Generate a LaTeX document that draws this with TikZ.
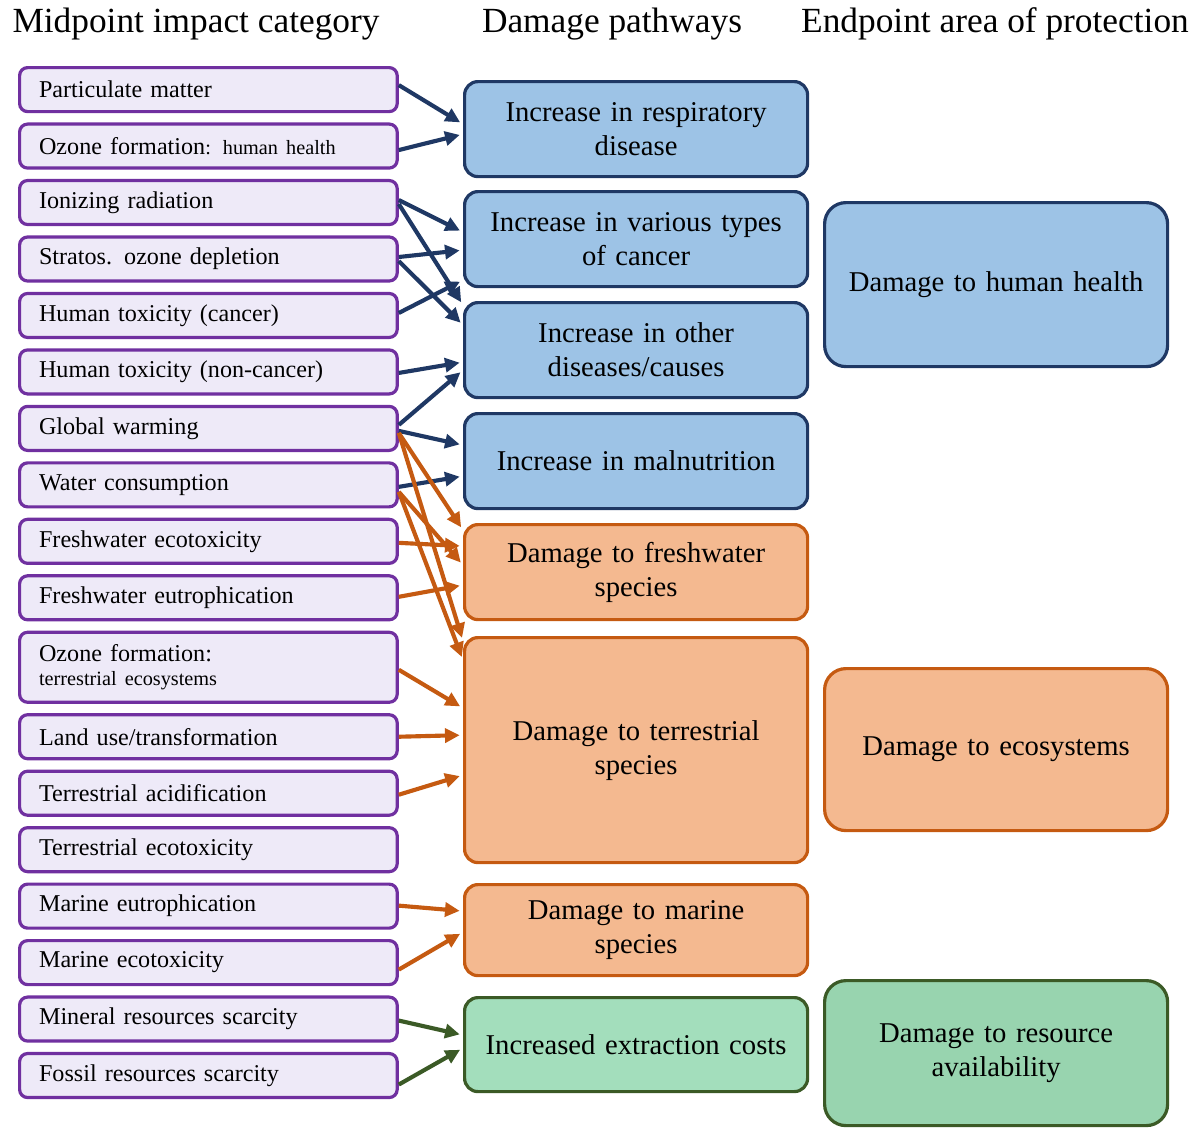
\documentclass[tikz,border=0pt]{standalone}
\usepackage{fontspec}
\setmainfont{Liberation Serif}
\usetikzlibrary{arrows.meta,positioning}
\definecolor{lcaCat}{HTML}{EEEAF8}
\definecolor{lcaCatDraw}{HTML}{7030A0}
\definecolor{lcaHealth}{HTML}{9DC3E6}
\definecolor{lcaHealthDraw}{HTML}{1F3864}
\definecolor{lcaEco}{HTML}{F4B990}
\definecolor{lcaEcoDraw}{HTML}{C55A11}
\definecolor{lcaRes}{HTML}{A3DEBC}
\definecolor{lcaResEnd}{HTML}{98D4AF}
\definecolor{lcaResDraw}{HTML}{3B5A26}
\tikzset{
  catbox/.style={
    draw=lcaCatDraw, fill=lcaCat, line width=2.4pt, rounded corners=6pt,
    minimum height=33pt, text width=254pt, inner xsep=14.6pt, inner ysep=0pt,
    align=left, font=\fontsize{18.1}{21}\selectfont
  },
  pathbox/.style={
    line width=2.4pt, rounded corners=10pt, minimum width=257.25pt,
    text width=230pt, align=center, anchor=north west,
    font=\fontsize{21.5}{25.5}\selectfont
  },
  endbox/.style={pathbox, rounded corners=16pt},
  health/.style={draw=lcaHealthDraw, fill=lcaHealth},
  eco/.style={draw=lcaEcoDraw, fill=lcaEco},
  res/.style={draw=lcaResDraw, fill=lcaRes},
  coltitle/.style={font=\fontsize{26.5}{30}\selectfont, anchor=base},
  link/.style={-{Triangle[length=11pt,width=10.5pt]}, line width=3.1pt, shorten >=2.5pt},
  hlink/.style={link, lcaHealthDraw},
  elink/.style={link, lcaEcoDraw},
  rlink/.style={link, lcaResDraw}
}
\newcommand{\subcat}[1]{{\fontsize{15.2}{18}\selectfont #1}}

\begin{document}
\begin{tikzpicture}[x=0.75pt, y=-0.75pt, node distance=6.95pt]
  \useasboundingbox (0,0) rectangle (1196,1128);
  % Column headings
  \node[coltitle] (tmid) at (196,32) {Midpoint impact category};
  \node[coltitle] (tpath) at (612,32) {Damage pathways};
  \node[coltitle] (tend) at (995,32) {Endpoint area of protection};
  % Midpoint categories (left column)
  \node[catbox, anchor=north west] (pm) at (18,66) {Particulate matter};
  \node[catbox, below=of pm] (ozhh) {Ozone formation\subcat{: human health}};
  \node[catbox, below=of ozhh] (ion) {Ionizing radiation};
  \node[catbox, below=of ion] (strat) {Stratos. ozone depletion};
  \node[catbox, below=of strat] (htc) {Human toxicity (cancer)};
  \node[catbox, below=of htc] (htn) {Human toxicity (non-cancer)};
  \node[catbox, below=of htn] (gw) {Global warming};
  \node[catbox, below=of gw] (wc) {Water consumption};
  \node[catbox, below=of wc] (fet) {Freshwater ecotoxicity};
  \node[catbox, below=of fet] (feu) {Freshwater eutrophication};
  \node[catbox, below=of feu, minimum height=52.5pt] (ozt) {Ozone formation:\\[-3pt]\subcat{terrestrial ecosystems}};
  \node[catbox, below=of ozt] (lu) {Land use/transformation};
  \node[catbox, below=of lu] (ta) {Terrestrial acidification};
  \node[catbox, below=of ta] (tet) {Terrestrial ecotoxicity};
  \node[catbox, below=of tet] (meu) {Marine eutrophication};
  \node[catbox, below=of meu] (met) {Marine ecotoxicity};
  \node[catbox, below=of met] (mrs) {Mineral resources scarcity};
  \node[catbox, below=of mrs] (frs) {Fossil resources scarcity};
  % Damage pathways (middle column)
  \node[pathbox, health, minimum height=71.25pt] (resp) at (463,80) {Increase in respiratory\\disease};
  \node[pathbox, health, minimum height=71.25pt] (canc) at (463,190) {Increase in various types\\of cancer};
  \node[pathbox, health, minimum height=71.25pt] (oth) at (463,301) {Increase in other\\diseases/causes};
  \node[pathbox, health, minimum height=71.25pt] (maln) at (463,412) {Increase in malnutrition};
  \node[pathbox, eco, minimum height=71.25pt] (fresh) at (463,523) {Damage to freshwater\\species};
  \node[pathbox, eco, minimum height=168.75pt] (terr) at (463,636) {Damage to terrestrial\\species};
  \node[pathbox, eco, minimum height=68.25pt] (mar) at (463,883) {Damage to marine\\species};
  \node[pathbox, res, minimum height=70.5pt] (extr) at (463,996) {Increased extraction costs};
  % Endpoints (right column)
  \node[endbox, health, minimum height=123pt] (hh) at (823,201) {Damage to human health};
  \node[endbox, eco, minimum height=121.5pt] (eco) at (823,667) {Damage to ecosystems};
  \node[endbox, res, fill=lcaResEnd, minimum height=108.75pt] (ra) at (823,979) {Damage to resource\\availability};
  % Human health links
  \draw[hlink] ([shift={(0,-4.5)}]pm.east) -- ([shift={(0,-5)}]resp.west);
  \draw[hlink] ([shift={(0,4)}]ozhh.east) -- ([shift={(0,5)}]resp.west);
  \draw[hlink] ([shift={(0,-2.5)}]ion.east) -- ([shift={(0,-7)}]canc.west);
  \draw[hlink] ([shift={(0,1.5)}]ion.east) -- ([shift={(0,-45)}]oth.west);
  \draw[hlink] ([shift={(0,-2)}]strat.east) -- ([shift={(0,11)}]canc.west);
  \draw[hlink] ([shift={(0,2)}]strat.east) -- ([shift={(0,-25)}]oth.west);
  \draw[hlink] ([shift={(0,-2.5)}]htc.east) -- ([shift={(0,41)}]canc.west);
  \draw[hlink] ([shift={(0,1)}]htn.east) -- ([shift={(0,12)}]oth.west);
  \draw[hlink] ([shift={(0,-3.5)}]gw.east) -- ([shift={(0,20)}]oth.west);
  \draw[hlink] ([shift={(0,2.5)}]gw.east) -- ([shift={(0,-16)}]maln.west);
  \draw[hlink] ([shift={(0,2)}]wc.east) -- ([shift={(0,15)}]maln.west);
  % Ecosystem links
  \draw[elink] ([shift={(0,4.5)}]gw.east) -- ([shift={(0,-42)}]fresh.west);
  \draw[elink] ([shift={(0,4.5)}]gw.east) -- ([shift={(0,-109)}]terr.west);
  \draw[elink] ([shift={(0,7)}]wc.east) -- ([shift={(0,-7)}]fresh.west);
  \draw[elink] ([shift={(0,7)}]wc.east) -- ([shift={(0,-90)}]terr.west);
  \draw[elink] ([shift={(0,1.5)}]fet.east) -- ([shift={(0,-26)}]fresh.west);
  \draw[elink] ([shift={(0,-1)}]feu.east) -- ([shift={(0,13)}]fresh.west);
  \draw[elink] ([shift={(0,2.5)}]ozt.east) -- ([shift={(0,-42)}]terr.west);
  \draw[elink] (lu.east) -- ([shift={(0,-15)}]terr.west);
  \draw[elink] ([shift={(0,1.5)}]ta.east) -- ([shift={(0,25)}]terr.west);
  \draw[elink] ([shift={(0,-0.5)}]meu.east) -- ([shift={(0,-19)}]mar.west);
  \draw[elink] ([shift={(0,7)}]met.east) -- ([shift={(0,2)}]mar.west);
  % Resource links
  \draw[rlink] ([shift={(0,1.5)}]mrs.east) -- ([shift={(0,-9.5)}]extr.west);
  \draw[rlink] ([shift={(0,9)}]frs.east) -- ([shift={(0,3.5)}]extr.west);
\end{tikzpicture}
\end{document}
